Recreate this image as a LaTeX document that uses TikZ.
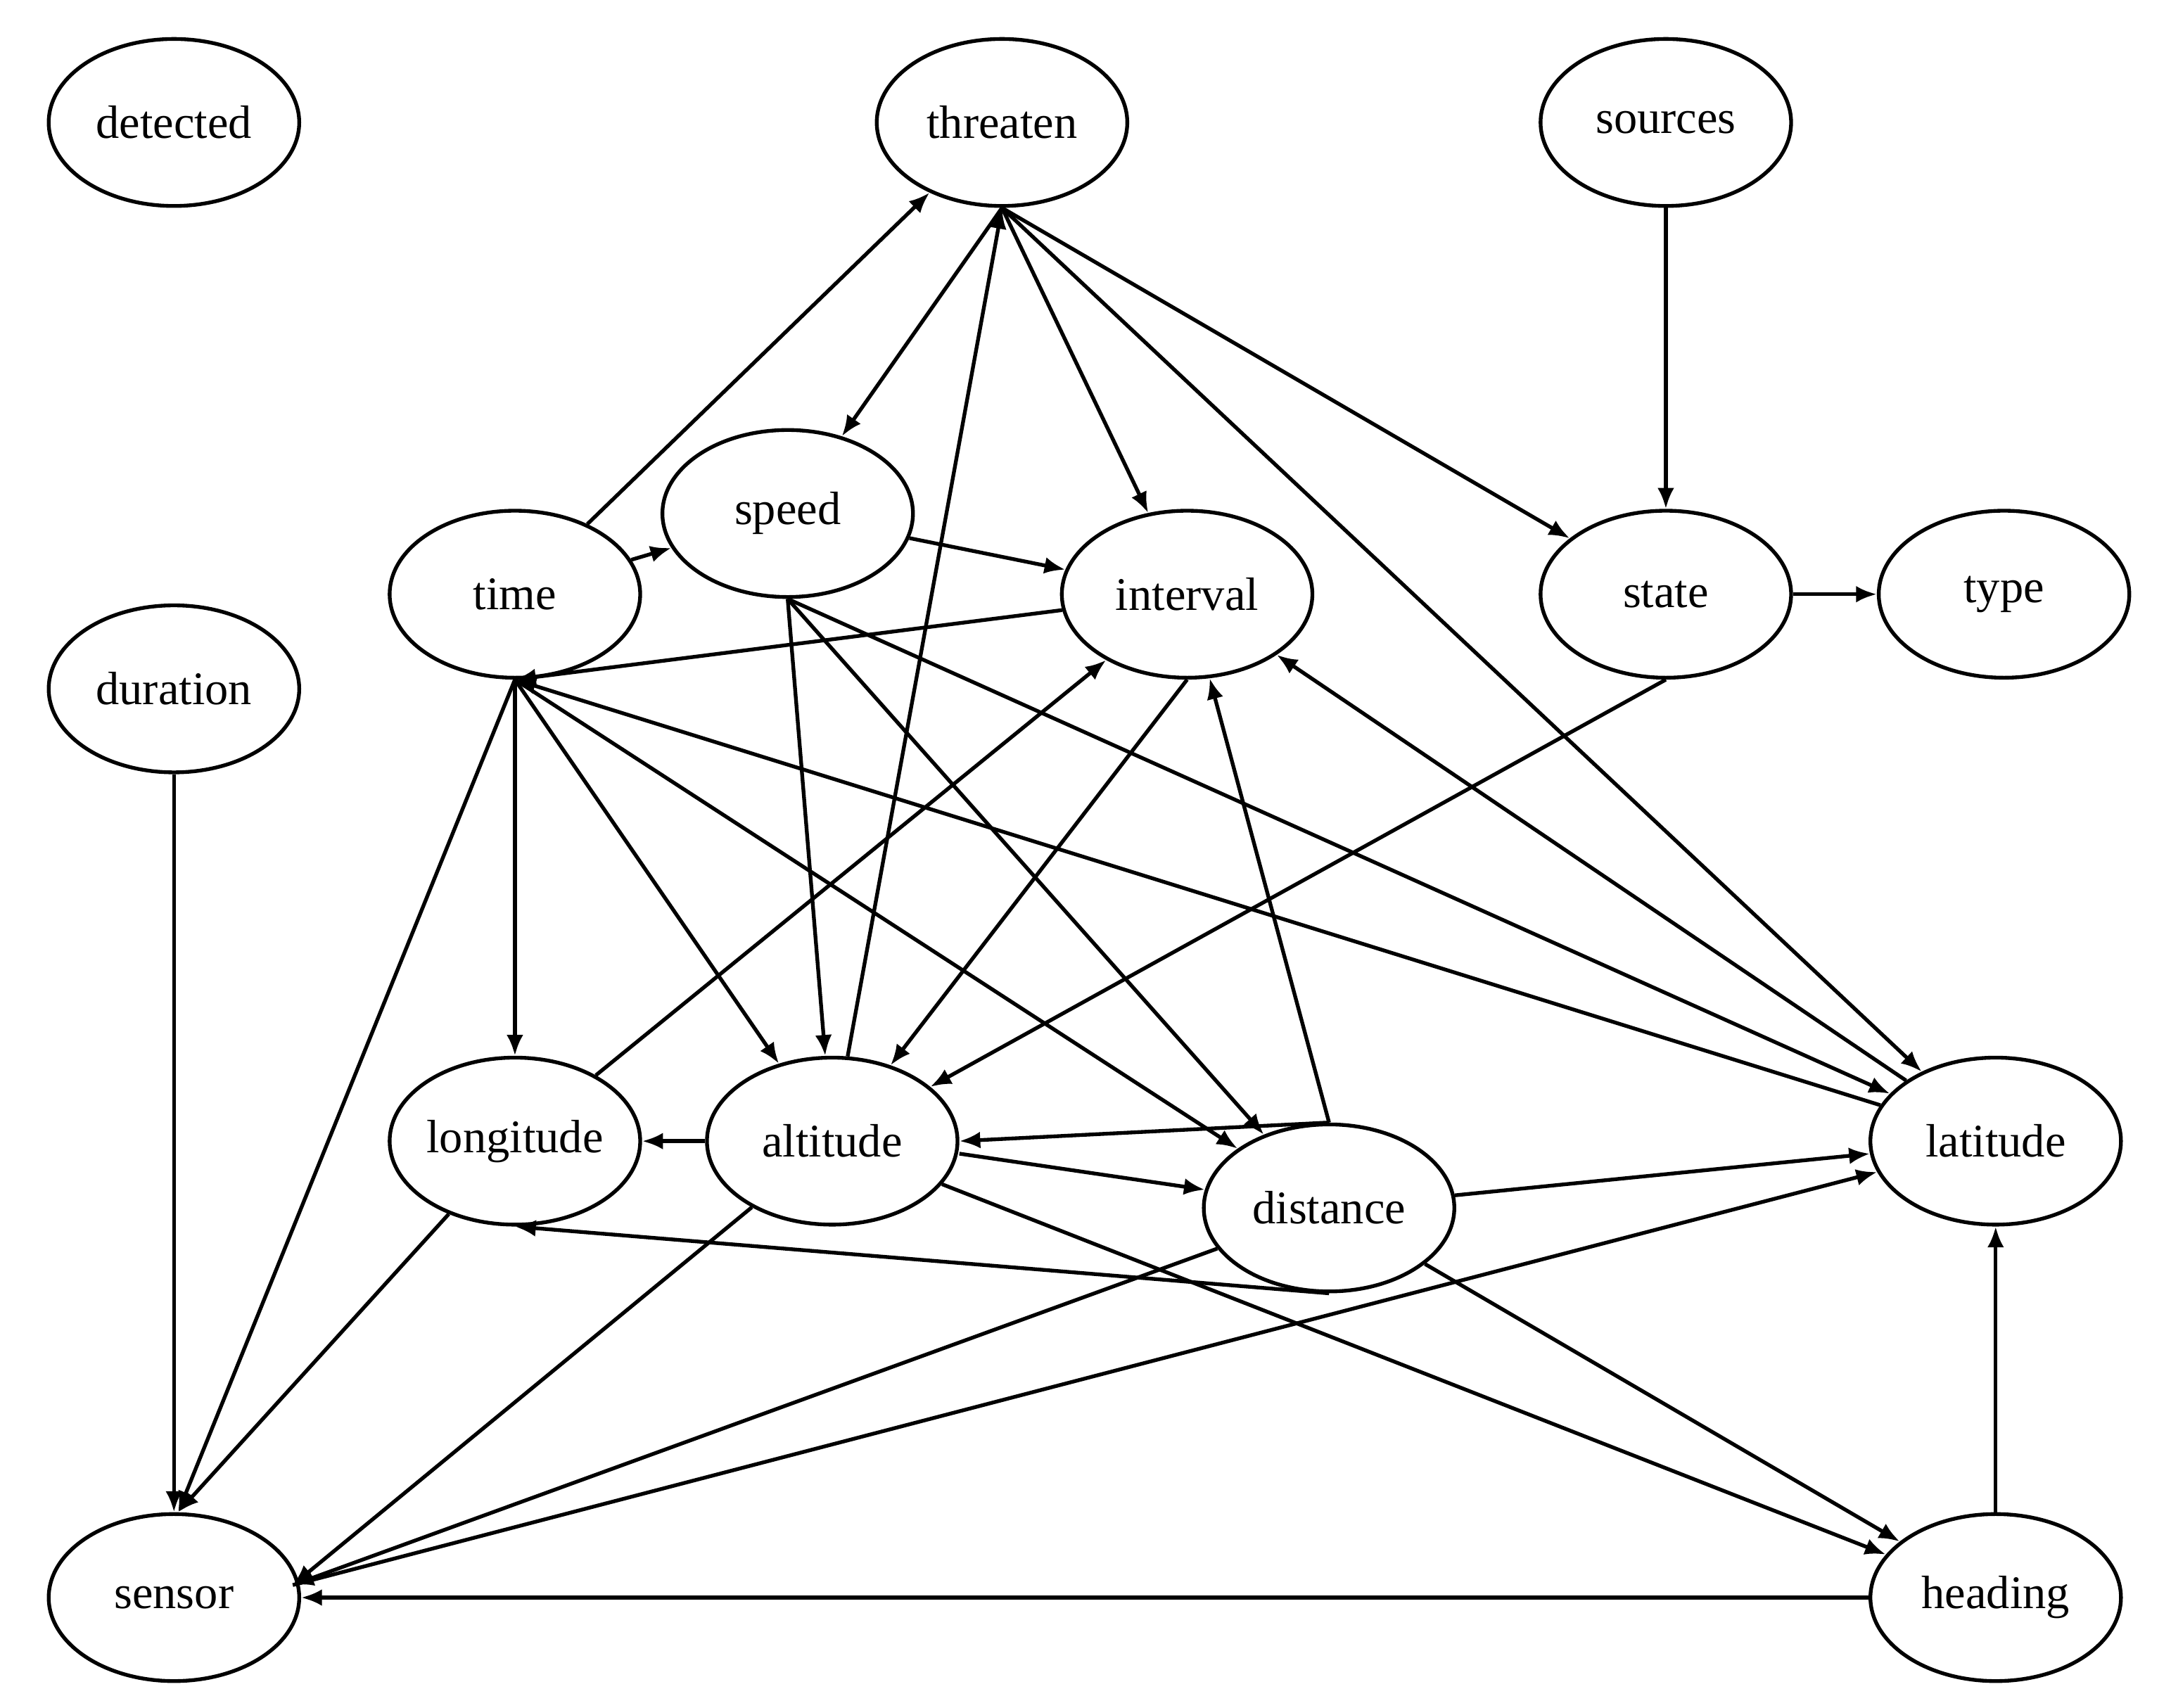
\documentclass[tikz,border=0pt]{standalone}
\usepackage{fontspec}
\setmainfont{Liberation Serif}
\usetikzlibrary{shapes.geometric,arrows.meta}
\begin{document}
\begin{tikzpicture}[x=0.3333pt,y=-0.3333pt,
  n/.style={ellipse,draw,line width=0.9pt,minimum width=60pt,minimum height=40pt,inner sep=0pt,font=\fontsize{11.2}{13}\selectfont},
  e/.style={-{Latex[length=5pt,width=4pt]},line width=0.9pt}]
\useasboundingbox (0,0) rectangle (1560,1227);
\node[n] (detected) at (125,88) {detected};
\node[n] (threaten) at (720,88) {threaten};
\node[n] (sources) at (1197,88) {sources};
\node[n] (speed) at (566,369) {speed};
\node[n] (time) at (370,427) {time};
\node[n] (interval) at (853,427) {interval};
\node[n] (state) at (1197,427) {state};
\node[n] (type) at (1440,427) {type};
\node[n] (duration) at (125,495) {duration};
\node[n] (longitude) at (370,820) {longitude};
\node[n] (altitude) at (598,820) {altitude};
\node[n] (distance) at (955,868) {distance};
\node[n] (latitude) at (1434,820) {latitude};
\node[n] (sensor) at (125,1148) {sensor};
\node[n] (heading) at (1434,1148) {heading};
\coordinate (ts) at (threaten.south);
\coordinate (sn) at ([xshift=1pt]sensor.north);
\coordinate (se) at ([xshift=-2pt,yshift=3pt]sensor.east);
\draw[e] (time) -- (threaten);
\draw[e] (time) -- (speed);
\draw[e] (ts) -- (speed);
\draw[e] (altitude) -- (ts);
\draw[e] (ts) -- (interval);
\draw[e] (ts) -- (latitude);
\draw[e] (ts) -- (state);
\draw[e] (sources) -- (state);
\draw[e] (state) -- (type);
\draw[e] (state.south) -- (altitude);
\draw[e] (speed) -- (interval);
\draw[e] (speed.south) -- (altitude);
\draw[e] (speed.south) -- (distance);
\draw[e] (speed.south) -- (latitude);
\draw[e] (interval) -- (time.south);
\draw[e] (interval.south) -- (altitude);
\draw[e] (longitude) -- (interval);
\draw[e] (distance.north) -- (interval);
\draw[e] (latitude) -- (interval);
\draw[e] (latitude) -- (time.south);
\draw[e] (time.south) -- (longitude);
\draw[e] (time.south) -- (altitude);
\draw[e] (time.south) -- (distance);
\draw[e] (time.south) -- (sn);
\draw[e] (altitude) -- (longitude);
\draw[e] (distance.north) -- (altitude.east);
\draw[e] ([yshift=-3pt]altitude.east) -- (distance);
\draw[e] (distance) -- (latitude);
\draw[e] (distance.south) -- (longitude.south);
\draw[e] (distance) -- (heading);
\draw[e] (altitude) -- (heading);
\draw[e] (distance) -- (se);
\draw[e] (altitude) -- (se);
\draw[e] (longitude) -- (sn);
\draw[e] (duration) -- (sensor);
\draw[e] (heading) -- (sensor);
\draw[e] (heading) -- (latitude);
\draw[e] (se) -- (latitude);
\end{tikzpicture}
\end{document}
